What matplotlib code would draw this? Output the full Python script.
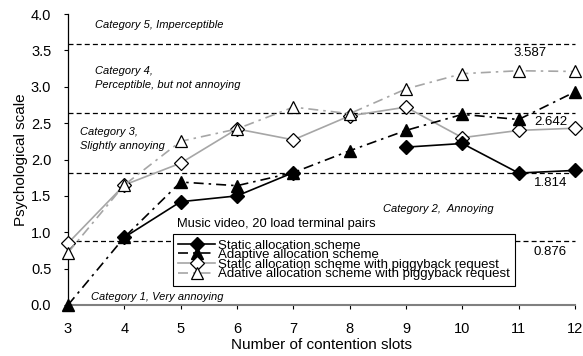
import numpy as np
import matplotlib.pyplot as plt

plt.rcParams['font.family'] = ['Liberation Sans', 'DejaVu Sans']

slots = [3, 4, 5, 6, 7, 8, 9, 10, 11, 12]
static_alloc = [np.nan, 0.93, 1.42, 1.50, 1.82, np.nan, 2.17, 2.22, 1.814, 1.85]
adaptive_alloc = [0.0, 0.93, 1.69, 1.64, 1.82, 2.12, 2.40, 2.62, 2.55, 2.93]
static_piggy = [0.85, 1.65, 1.95, 2.42, 2.27, 2.60, 2.72, 2.30, 2.40, 2.43]
adaptive_piggy = [0.72, 1.65, 2.25, 2.42, 2.72, 2.63, 2.97, 3.18, 3.22, 3.21]

thresholds = [3.587, 2.642, 1.814, 0.876]
threshold_label_x = [11.50, 11.86, 11.86, 11.86]
threshold_label_y = [3.47, 2.515, 1.68, 0.73]

gray = '#a6a6a6'

fig = plt.figure(figsize=(5.83, 3.56), dpi=100)
ax = fig.add_axes([68 / 583, 1 - 305 / 356, 507 / 583, 291 / 356])

for t, tx, ty in zip(thresholds, threshold_label_x, threshold_label_y):
    ax.axhline(t, color='black', ls=(0, (4, 2.5)), lw=0.9, zorder=1)
    ax.text(tx, ty, f'{t:.3f}', fontsize=9.5, ha='right', va='center')

ax.plot(slots, static_alloc, color='black', lw=1.2, marker='D', ms=7,
        mfc='black', mec='black', label='Static allocation scheme', zorder=4)
ax.plot(slots, adaptive_alloc, color='black', lw=1.2, ls=(0, (6, 3, 1.5, 3)),
        marker='^', ms=9, mfc='black', mec='black',
        label='Adaptive allocation scheme', zorder=4)
ax.plot(slots, static_piggy, color=gray, lw=1.2, marker='D', ms=7,
        mfc='white', mec='black', mew=0.9,
        label='Static allocation scheme with piggyback request', zorder=3)
ax.plot(slots, adaptive_piggy, color=gray, lw=1.2, ls=(0, (6, 3, 1.5, 3)),
        marker='^', ms=9, mfc='white', mec='black', mew=0.9,
        label='Adative allocation scheme with piggyback request', zorder=3)

cat = dict(fontsize=8, style='italic', va='center')
ax.text(3.48, 3.85, 'Category 5, Imperceptible', **cat)
ax.text(3.48, 3.21, 'Category 4,', **cat)
ax.text(3.48, 3.03, 'Perceptible, but not annoying', **cat)
ax.text(3.21, 2.38, 'Category 3,', **cat)
ax.text(3.21, 2.19, 'Slightly annoying', **cat)
ax.text(8.59, 1.32, 'Category 2,  Annoying', **cat)
ax.text(3.41, 0.11, 'Category 1, Very annoying', **cat)
ax.text(4.93, 1.11, 'Music video, 20 load terminal pairs', fontsize=9.3, va='center')

leg = ax.legend(loc='upper left', bbox_to_anchor=(105 / 507, 71 / 291),
                fontsize=9.5, labelspacing=-0.2, handlelength=2.8,
                handletextpad=0.2, borderpad=0.4, borderaxespad=0,
                frameon=True, fancybox=False, edgecolor='black', framealpha=1)
leg.get_frame().set_linewidth(0.8)

ax.set_xlim(3, 12)
ax.set_ylim(0, 4.0)
ax.set_xticks(slots)
ax.set_yticks(np.arange(0, 4.01, 0.5))
ax.set_yticklabels([f'{v:.1f}' for v in np.arange(0, 4.01, 0.5)])
ax.tick_params(axis='both', labelsize=10.5, length=3, width=0.8)
ax.tick_params(axis='x', pad=9)
ax.tick_params(axis='y', pad=9)
ax.spines['top'].set_visible(False)
ax.spines['right'].set_visible(False)
ax.spines['bottom'].set_color('#808080')
ax.spines['bottom'].set_linewidth(1.5)
ax.spines['left'].set_linewidth(0.9)
ax.set_xlabel('Number of contention slots', fontsize=11, labelpad=2)
ax.set_ylabel('Psychological scale', fontsize=11, labelpad=2)
for line in ax.get_lines():
    line.set_clip_on(False)

fig.savefig('out.png', dpi=100)
